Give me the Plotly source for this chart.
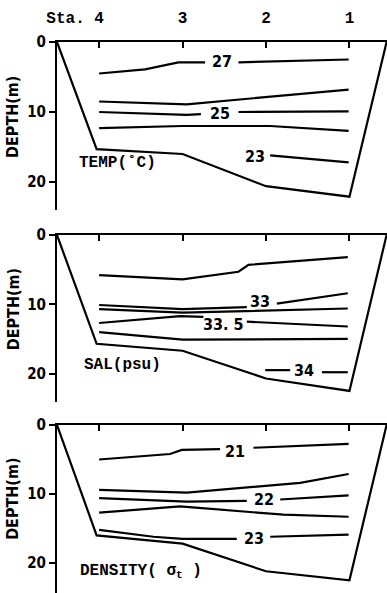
import plotly.graph_objects as go

# ---------------- data ----------------
stations_x = [0, 1, 2, 3]
station_labels = ["Sta. 4", "3", "2", "1"]
depth_ticks = [0, 10, 20]

# sea-bottom profile (left shore, Sta.4, 3, 2, 1, right shore)
bottom_x = [-0.505, -0.03, 1.0, 2.0, 3.0, 3.445]
temp_bottom = [0, 15.3, 16.0, 20.6, 22.1, 0]
sal_bottom = [0, 15.7, 16.7, 20.7, 22.5, 0]
dens_bottom = [0, 16.0, 17.2, 21.2, 22.5, 0]

# temperature isolines (None = gap for label)
t27_x = [0, 0.55, 0.95, 1.27, None, 1.67, 2.99]
t27_y = [4.5, 3.9, 2.9, 2.9, None, 2.9, 2.5]
t26_x = [0, 1.05, 2.99]
t26_y = [8.5, 8.9, 6.8]
t25_x = [0, 1.05, 1.22, None, 1.67, 2.99]
t25_y = [10.0, 10.4, 10.3, None, 10.0, 9.9]
t24_x = [0, 1.0, 2.05, 2.99]
t24_y = [12.3, 12.0, 12.0, 12.7]
t23_x = [2.05, 2.99]
t23_y = [16.2, 17.2]
temp_labels = ["27", "25", "23"]
temp_label_x = [1.47, 1.45, 1.87]
temp_label_y = [2.8, 10.2, 16.3]

# salinity isolines
s325_x = [0, 1.0, 1.67, 1.79, 2.98]
s325_y = [5.8, 6.4, 5.3, 4.3, 3.2]
s33_x = [0, 1.0, 1.77, None, 2.13, 2.98]
s33_y = [10.1, 10.7, 10.4, None, 9.9, 8.4]
s3325_x = [0, 1.0, 2.98]
s3325_y = [10.7, 11.2, 10.6]
s335_x = [0, 0.97, 1.25, None, 1.77, 2.98]
s335_y = [12.7, 11.7, 11.8, None, 12.5, 13.2]
s3375_x = [0, 1.0, 2.98]
s3375_y = [14.0, 15.1, 15.0]
s34_x = [1.99, 2.29, None, 2.67, 2.98]
s34_y = [19.5, 19.5, None, 19.8, 19.8]
sal_labels = ["33", "33. 5", "34"]
sal_label_x = [1.93, 1.49, 2.46]
sal_label_y = [9.6, 12.9, 19.5]

# density isolines
d21_x = [0, 0.85, 0.99, 1.45, None, 1.85, 2.99]
d21_y = [5.0, 4.2, 3.6, 3.5, None, 3.3, 2.75]
d215_x = [0, 1.05, 2.41, 2.99]
d215_y = [9.4, 9.8, 8.4, 7.1]
d22_x = [0, 1.05, 1.77, None, 2.17, 2.99]
d22_y = [10.6, 11.1, 11.0, None, 10.8, 10.2]
d225_x = [0, 0.97, 2.21, 2.99]
d225_y = [12.7, 11.8, 13.0, 13.3]
d23_x = [0, 0.65, 1.0, 1.65, None, 2.05, 2.99]
d23_y = [15.2, 16.2, 16.5, 16.5, None, 16.2, 15.9]
dens_labels = ["21", "22", "23"]
dens_label_x = [1.63, 1.98, 1.85]
dens_label_y = [3.8, 10.8, 16.5]

panel_titles = ["TEMP(˚C)", "SAL(psu)", "DENSITY( σ<sub>t</sub> )"]
panel_title_x = [-0.26, -0.21, -0.25]
panel_title_y = [17.3, 18.8, 21.3]

# ---------------- figure ----------------
W, H = 387, 593
ML, MT = 57, 42
domains = [[0.6951, 1.0], [0.3466, 0.6497], [0.0, 0.3049]]
yranges = [[24.0, 0], [24.1, 0], [24.35, 0]]

NUM_FONT = "DejaVu Sans Condensed, Liberation Sans Narrow, Noto Sans, sans-serif"
TXT_FONT = "Liberation Mono, Courier New, monospace"

fig = go.Figure()
LW = 2.2

def add_line(x, y, k):
    fig.add_trace(go.Scatter(x=x, y=y, mode="lines", xaxis="x" if k == 1 else f"x{k}",
                             yaxis="y" if k == 1 else f"y{k}",
                             line=dict(color="black", width=LW), connectgaps=False,
                             hoverinfo="skip", showlegend=False, cliponaxis=False))

panels = [
    (temp_bottom, [(t27_x, t27_y), (t26_x, t26_y), (t25_x, t25_y), (t24_x, t24_y), (t23_x, t23_y)],
     temp_labels, temp_label_x, temp_label_y),
    (sal_bottom, [(s325_x, s325_y), (s33_x, s33_y), (s3325_x, s3325_y), (s335_x, s335_y),
                  (s3375_x, s3375_y), (s34_x, s34_y)],
     sal_labels, sal_label_x, sal_label_y),
    (dens_bottom, [(d21_x, d21_y), (d215_x, d215_y), (d22_x, d22_y), (d225_x, d225_y), (d23_x, d23_y)],
     dens_labels, dens_label_x, dens_label_y),
]

annotations = []
for i, (bot, lines, labs, lx, ly) in enumerate(panels):
    k = i + 1
    add_line(bottom_x, bot, k)
    for (x, y) in lines:
        add_line(x, y, k)
    xr = "x" if k == 1 else f"x{k}"
    yr = "y" if k == 1 else f"y{k}"
    for t, xx, yy in zip(labs, lx, ly):
        annotations.append(dict(text=t, x=xx, y=yy, xref=xr, yref=yr, showarrow=False,
                                font=dict(family=NUM_FONT, size=16, color="black", weight="bold")))
    annotations.append(dict(text=panel_titles[i], x=panel_title_x[i], y=panel_title_y[i],
                            xref=xr, yref=yr, xanchor="left", showarrow=False,
                            font=dict(family=TXT_FONT, size=16, color="black", weight="bold")))
    annotations.append(dict(text="DEPTH(m)", x=-0.165, xref="paper", xanchor="left",
                            y=10.7, yref=yr, textangle=-90, showarrow=False, borderpad=0,
                            font=dict(family=NUM_FONT, size=16, color="black", weight="bold")))

# pad the first tick label so that the "4" sits centred over its tick (monospace font)
tick_text = [station_labels[0] + "\u00a0" * (len(station_labels[0]) - 1)] + station_labels[1:]

layout = dict(width=W, height=H, margin=dict(l=ML, r=0, t=MT, b=0, pad=0, autoexpand=False),
              plot_bgcolor="white", paper_bgcolor="white", showlegend=False,
              annotations=annotations)

for i in range(3):
    k = i + 1
    xa = "xaxis" if k == 1 else f"xaxis{k}"
    ya = "yaxis" if k == 1 else f"yaxis{k}"
    layout[xa] = dict(range=[-0.505, 3.45], domain=[0, 1], anchor="y" if k == 1 else f"y{k}",
                      side="top", showline=True, linewidth=2, linecolor="black",
                      ticks="inside", ticklen=6, tickwidth=2, tickcolor="black",
                      tickvals=stations_x, ticktext=tick_text,
                      showticklabels=(k == 1), ticklabelstandoff=11, automargin=False,
                      tickfont=dict(family=TXT_FONT, size=16, color="black", weight="bold"),
                      showgrid=False, zeroline=False)
    layout[ya] = dict(range=yranges[i], domain=domains[i], anchor="x" if k == 1 else f"x{k}",
                      showline=True, linewidth=2, linecolor="black", automargin=False,
                      ticks="outside", ticklen=6, tickwidth=2, tickcolor="black",
                      tickvals=depth_ticks, ticktext=[str(v) for v in depth_ticks],
                      tickfont=dict(family=NUM_FONT, size=15, color="black", weight="bold"),
                      showgrid=False, zeroline=False)

fig.update_layout(**layout)
fig.write_html("out.html", config={"displayModeBar": False},
               post_script="document.body.style.margin='0';document.body.style.overflow='hidden';")
